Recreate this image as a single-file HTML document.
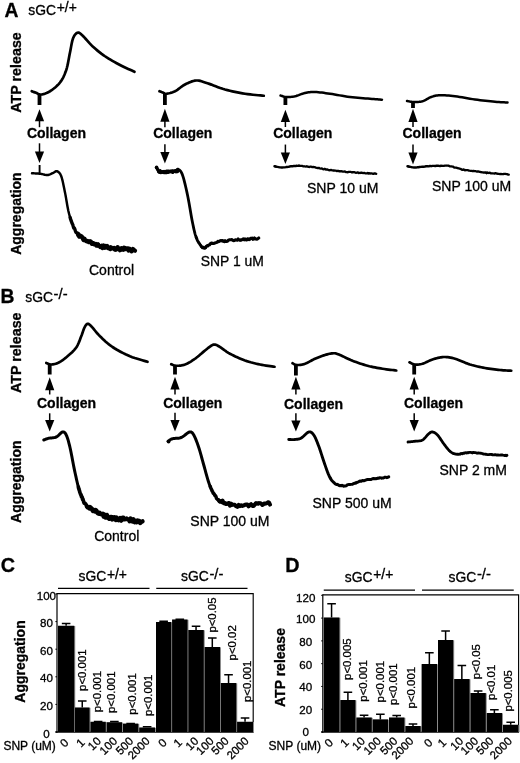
<!DOCTYPE html>
<html><head><meta charset="utf-8"><title>Figure</title>
<style>html,body{margin:0;padding:0;background:#fff;}svg{display:block;will-change:transform;}text{font-family:"Liberation Sans",sans-serif;fill:#000;stroke:#000;stroke-width:0.3px;}</style>
</head><body>
<svg width="520" height="763" viewBox="0 0 520 763">
<rect width="520" height="763" fill="#fff"/>
<text x="4.4" y="17.2" font-size="19.3" font-weight="bold" text-anchor="start">A</text>
<text x="28.3" y="14.9" font-size="13.9">sGC<tspan dx="0.6" dy="-2.5" font-size="13.9">+/+</tspan></text>
<text x="21.4" y="72.5" font-size="14.3" font-weight="bold" text-anchor="middle" transform="rotate(-90 21.4 72.5)">ATP release</text>
<text x="21.4" y="213.6" font-size="14" font-weight="bold" text-anchor="middle" transform="rotate(-90 21.4 213.6)">Aggregation</text>
<path d="M31.75 91.25 L32.07 91.37 L32.49 91.52 L32.99 91.71 L33.55 91.92 L34.15 92.14 L34.77 92.37 L35.39 92.59 L36 92.8 L36.58 93.04 L37.16 93.33 L37.74 93.64 L38.34 93.95 L38.98 94.22 L39.67 94.42 L40.42 94.52 L41.25 94.5 L42.17 94.37 L43.16 94.16 L44.22 93.89 L45.33 93.53 L46.47 93.09 L47.64 92.57 L48.82 91.95 L50 91.25 L51.22 90.45 L52.5 89.54 L53.82 88.54 L55.16 87.45 L56.47 86.3 L57.73 85.08 L58.92 83.81 L60 82.5 L60.98 81.15 L61.88 79.76 L62.73 78.31 L63.52 76.8 L64.25 75.22 L64.95 73.56 L65.61 71.83 L66.25 70 L66.84 68.03 L67.38 65.89 L67.87 63.65 L68.33 61.34 L68.76 59.03 L69.17 56.75 L69.58 54.55 L70 52.5 L70.4 50.53 L70.77 48.56 L71.11 46.63 L71.45 44.77 L71.8 43 L72.16 41.34 L72.56 39.83 L73 38.5 L73.49 37.32 L74.01 36.27 L74.56 35.35 L75.12 34.55 L75.71 33.88 L76.3 33.35 L76.9 32.96 L77.5 32.7 L78.07 32.58 L78.6 32.61 L79.12 32.77 L79.66 33.07 L80.24 33.49 L80.89 34.04 L81.63 34.71 L82.5 35.5 L83.49 36.47 L84.59 37.65 L85.77 38.98 L87.03 40.42 L88.35 41.92 L89.71 43.43 L91.1 44.89 L92.5 46.25 L93.93 47.54 L95.39 48.83 L96.89 50.11 L98.44 51.38 L100.02 52.62 L101.64 53.86 L103.3 55.06 L105 56.25 L106.76 57.42 L108.59 58.57 L110.46 59.71 L112.38 60.83 L114.3 61.92 L116.23 62.98 L118.13 64.01 L120 65 L121.94 65.99 L124 66.99 L126.11 67.97 L128.19 68.92 L130.15 69.8 L131.91 70.58 L133.38 71.24 L134.5 71.75" fill="none" stroke="#000" stroke-width="2.7" stroke-linecap="round" stroke-linejoin="round"/>
<rect x="37.6" y="94.5" width="3.8" height="10.5" fill="#000"/>
<path d="M39.5 109.3 L34.9 121.3 L44.1 121.3 Z" fill="#000"/>
<path d="M39.5 120.3 V127.2" stroke="#000" stroke-width="1.5" fill="none"/>
<text x="26.9" y="137.5" font-size="14" font-weight="bold" text-anchor="start">Collagen</text>
<path d="M39.5 143.3 V152.5" stroke="#000" stroke-width="1.5" fill="none"/>
<path d="M39.5 162.9 L34.9 151.5 L44.1 151.5 Z" fill="#000"/>
<path d="M39.6 165 V174" stroke="#000" stroke-width="1.9" fill="none"/>
<path d="M32 173.25 L32.48 173.28 L33.1 173.31 L33.83 173.34 L34.65 173.38 L35.53 173.42 L36.45 173.47 L37.38 173.53 L38.3 173.59 L39.18 173.67 L40 173.75 L40.78 173.86 L41.56 174 L42.35 174.17 L43.13 174.35 L43.91 174.53 L44.67 174.7 L45.41 174.84 L46.14 174.95 L46.83 175 L47.5 175 L48.14 174.93 L48.75 174.8 L49.34 174.63 L49.92 174.42 L50.47 174.19 L51 173.94 L51.52 173.68 L52.03 173.44 L52.52 173.2 L53 173 L53.46 172.78 L53.89 172.53 L54.3 172.24 L54.7 171.96 L55.08 171.69 L55.45 171.45 L55.83 171.27 L56.21 171.16 L56.6 171.15 L57 171.25 L57.42 171.43 L57.84 171.64 L58.27 171.9 L58.71 172.22 L59.14 172.62 L59.57 173.12 L60 173.71 L60.43 174.42 L60.84 175.26 L61.25 176.25 L61.65 177.4 L62.03 178.72 L62.41 180.18 L62.79 181.76 L63.16 183.44 L63.52 185.19 L63.89 187 L64.26 188.83 L64.63 190.67 L65 192.5 L65.37 194.37 L65.73 196.34 L66.09 198.38 L66.44 200.47 L66.8 202.58 L67.16 204.68 L67.53 206.75 L67.92 208.76 L68.32 210.69 L68.75 212.5 L69.19 214.23 L69.65 215.92 L70.12 217.56" fill="none" stroke="#000" stroke-width="2.45" stroke-linecap="round" stroke-linejoin="round"/>
<path d="M70.12 217.56 L70.36 218.32 L70.6 219.2 L70.85 219.76 L71.09 220.72 L71.35 221.36 L71.6 221.84 L71.86 222.91 L72.12 223.13 L72.38 224.22 L72.65 224.41 L72.92 225.03 L73.19 226.16 L73.75 228.06 L74.31 227.94 L74.86 229.14 L75.41 230.93 L75.98 232.57 L76.56 232.6 L77.17 232.97 L77.81 235.26 L78.49 233.5 L79.22 236.54" fill="none" stroke="#000" stroke-width="3.38" stroke-linecap="round" stroke-linejoin="round"/>
<path d="M79.22 236.54 L80 235.62 L80.83 235.92 L81.68 236.54 L82.57 237.79 L83.49 239.96 L84.45 238.68 L85.46 240.49 L86.51 241.25 L87.62 241.02 L88.78 242.1 L90 241.19 L90.65 241.45 L91.3 242.15 L91.99 243.84 L92.68 243.34 L93.41 243.25 L94.13 244.32 L94.89 244.17 L95.64 243.96 L96.41 245.68 L97.19 245.63 L97.97 244.49" fill="none" stroke="#000" stroke-width="4.3" stroke-linecap="round" stroke-linejoin="round"/>
<path d="M97.97 244.49 L98.76 245.71 L99.55 245.77 L100.34 247.03 L101.13 246.79 L101.92 245.67 L102.7 247.93 L103.48 245.52 L104.24 246.59 L105 247.77 L105.75 246.1 L106.5 247.25 L107.25 246.02 L108 248.03 L108.75 248.42 L109.5 247.95 L110.25 248.94 L111 247.34 L111.75 248.56 L112.5 248.33 L113.25 248.35 L114 248.05 L114.75 249.27" fill="none" stroke="#000" stroke-width="4.3" stroke-linecap="round" stroke-linejoin="round"/>
<path d="M114.75 249.27 L115.5 249.65 L116.25 248.3 L117 248.94 L117.75 247.2 L118.5 249.19 L119.25 249.11 L120 250.23 L120.78 249.81 L121.57 248.29 L122.4 248.69 L123.24 249.63 L124.11 247.8 L124.97 249.22 L125.85 248.44 L126.72 248.39 L127.58 248.31 L128.44 250.54 L129.26 248.72 L130.08 249.17 L130.84 249.69 L131.6 251.22 L132.96 249 L134.11 250.24 L135 250.65" fill="none" stroke="#000" stroke-width="4.3" stroke-linecap="round" stroke-linejoin="round"/>
<text x="89" y="274.6" font-size="14" text-anchor="start">Control</text>
<path d="M159.5 91.25 L159.77 91.36 L160.13 91.5 L160.57 91.67 L161.05 91.85 L161.55 92.05 L162.06 92.24 L162.55 92.43 L163 92.6 L163.38 92.78 L163.7 92.99 L164 93.21 L164.3 93.42 L164.64 93.59 L165.06 93.72 L165.58 93.78 L166.25 93.75 L167.07 93.64 L168.02 93.48 L169.07 93.27 L170.2 92.99 L171.39 92.66 L172.6 92.26 L173.81 91.79 L175 91.25 L176.18 90.59 L177.38 89.8 L178.6 88.91 L179.84 87.97 L181.1 87.02 L182.38 86.09 L183.68 85.24 L185 84.5 L186.35 83.82 L187.72 83.15 L189.13 82.5 L190.55 81.91 L191.98 81.38 L193.41 80.96 L194.84 80.66 L196.25 80.5 L197.61 80.5 L198.92 80.63 L200.19 80.88 L201.48 81.23 L202.82 81.67 L204.25 82.16 L205.79 82.69 L207.5 83.25 L209.37 83.88 L211.38 84.61 L213.49 85.43 L215.7 86.28 L217.98 87.15 L220.3 88 L222.65 88.79 L225 89.5 L227.39 90.14 L229.85 90.76 L232.37 91.34 L234.92 91.89 L237.48 92.41 L240.03 92.89 L242.54 93.34 L245 93.75 L247.53 94.12 L250.21 94.46 L252.95 94.75 L255.62 95.02 L258.15 95.25 L260.41 95.44 L262.31 95.61 L263.75 95.75" fill="none" stroke="#000" stroke-width="2.7" stroke-linecap="round" stroke-linejoin="round"/>
<rect x="163" y="93.75" width="3.8" height="11.25" fill="#000"/>
<path d="M164.9 108.8 L160.3 121.8 L169.5 121.8 Z" fill="#000"/>
<path d="M164.9 120.8 V127.2" stroke="#000" stroke-width="1.5" fill="none"/>
<text x="153.2" y="138" font-size="14" font-weight="bold" text-anchor="start">Collagen</text>
<path d="M164.9 144.3 V153" stroke="#000" stroke-width="1.5" fill="none"/>
<path d="M164.9 163.4 L160.3 152 L169.5 152 Z" fill="#000"/>
<path d="M156.25 167.61 L156.35 167.69 L156.48 168.01 L156.64 167.36 L156.81 167.9 L157 168.15 L157.2 169.34 L157.4 169.81 L157.61 168.86 L157.81 169.21 L158 169.57 L158.15 169.82 L158.26 170.47 L158.33 170.88 L158.4 170.59 L158.48 170.39 L158.61 171.26 L158.8 171.37 L159.08 171.85 L159.47 172.61 L160 172.3 L160.69 172.11 L161.55 172.33 L162.54 172.46 L163.62 171.48 L164.75 172.83 L165.9 172.62 L167.04 172.74 L168.13 172.57 L169.13 171.88 L170 171.84 L170.78 171.31 L171.51 172.09 L172.2 171.09 L172.86 171 L173.47 171.13 L174.04 170.94 L174.58 171.11 L175.09 170.53 L175.56 170.33 L176 170.44 L176.39 170.2 L176.7 170.4 L176.96 169.61 L177.18 170.7 L177.38 170.03 L177.56 169.06 L177.75 169.05 L177.96 169.12 L178.2 169.37 L178.5 169.5 L178.83 169.7 L179.19 169.92 L179.56 170.18 L179.94 170.5 L180.34 170.91 L180.76 171.42 L181.18 172.06 L181.61 172.86 L182.05 173.83 L182.5 175 L182.96 176.38 L183.44 177.95 L183.93 179.7 L184.43 181.6 L184.94 183.62 L185.45 185.76 L185.97 187.99 L186.48 190.29 L187 192.63 L187.5 195 L188.01 197.5 L188.52 200.22 L189.04 203.09 L189.56 206.06 L190.08 209.06 L190.59 212.04 L191.09 214.93 L191.58 217.68 L192.05 220.22 L192.5 222.5 L192.92 224.53 L193.31 226.4 L193.68 228.12 L194.03 229.7 L194.38 231.17 L194.72 232.55 L195.07 233.85 L195.44 235.1 L195.83 236.31 L196.25 237.5" fill="none" stroke="#000" stroke-width="2.8" stroke-linecap="round" stroke-linejoin="round"/>
<path d="M196.25 237.5 L196.71 238.63 L197.19 239.82 L197.7 240.93 L198.22 241.8 L198.75 242.73 L199.28 243.4 L199.8 244.16 L200.31 244.99 L200.8 245.55 L201.25 246.5 L201.66 246.42 L202.02 246.64 L202.35 247.8 L202.66 247.6 L202.97 247.3 L203.29 247.83 L203.64 247.18 L204.03 247.78 L204.48 248.33 L205 248.05 L205.56 247.58" fill="none" stroke="#000" stroke-width="2.95" stroke-linecap="round" stroke-linejoin="round"/>
<path d="M205.56 247.58 L206.14 246.55 L206.74 246.3 L207.37 245.49 L208.05 245.92 L208.78 244.98 L209.58 244.83 L210.46 243.59 L211.43 242.95 L212.5 243.5 L213.69 243.44 L214.98 242.92 L215.68 242.7 L216.37 242.57 L217.11 242.31 L217.84 241.36 L218.61 241.7 L219.38 241.32 L220.17 240.68 L220.96 240.56 L221.77 240.85 L222.58 240.71" fill="none" stroke="#000" stroke-width="3.1" stroke-linecap="round" stroke-linejoin="round"/>
<path d="M222.58 240.71 L223.4 241.3 L224.22 241.62 L225.04 240.7 L225.87 241.39 L226.68 241.38 L227.5 241.23 L228.33 240.2 L229.17 239.88 L230.03 239.81 L230.9 239.68 L231.79 239.62 L232.68 240.22 L233.59 240.6 L234.5 240.44 L235.41 239.81 L236.33 240.03 L237.24 240.21 L238.15 239.01 L239.05 239.88 L239.95 240.22 L240.82 239.97" fill="none" stroke="#000" stroke-width="3.1" stroke-linecap="round" stroke-linejoin="round"/>
<path d="M240.82 239.97 L241.7 239.86 L242.55 239.38 L243.39 238.84 L244.2 239.77 L245 238.98 L245.79 239.67 L246.59 239.89 L247.4 238.91 L248.21 238.86 L249.02 239.67 L249.83 239.26 L250.63 238.31 L251.43 238.19 L252.2 238.17 L252.97 239.32 L253.69 239.11 L254.42 238 L255.75 238.99 L256.94 239.15 L257.95 238.56 L258.75 238.01" fill="none" stroke="#000" stroke-width="3.1" stroke-linecap="round" stroke-linejoin="round"/>
<circle cx="156.6" cy="167.4" r="1.8" fill="#000"/>
<path d="M158.5 171.69 L159.3 170.94 L160.1 170.73 L160.9 172.45 L161.7 171.87 L162.5 171.65 L163.3 172.38 L164.1 171.48 L164.9 172.27 L165.7 172.19 L166.5 171.08 L167.3 171.15 L168.1 171.23 L168.9 171.13 L169.7 171.76 L170.5 171.17 L171.3 171.45 L172.1 170.94 L172.9 172.34 L173.7 171.19 L174.5 171.22 L175.3 171.3 L176.1 171.73 L176.9 170.71 L177.7 171.45" fill="none" stroke="#000" stroke-width="3.3" stroke-linecap="round" stroke-linejoin="round"/>
<text x="200.8" y="265.75" font-size="13.9" text-anchor="start">SNP 1 uM</text>
<path d="M280.5 95.5 L280.92 95.63 L281.46 95.82 L282.1 96.05 L282.83 96.3 L283.62 96.54 L284.47 96.75 L285.35 96.91 L286.25 97 L287.19 97.03 L288.2 97.03 L289.26 96.99 L290.36 96.92 L291.5 96.81 L292.65 96.67 L293.83 96.48 L295 96.25 L296.19 95.95 L297.41 95.56 L298.66 95.12 L299.92 94.64 L301.2 94.16 L302.47 93.71 L303.74 93.32 L305 93 L306.22 92.75 L307.38 92.53 L308.53 92.34 L309.69 92.19 L310.88 92.07 L312.15 92 L313.51 91.98 L315 92 L316.6 92.08 L318.28 92.21 L320.04 92.39 L321.88 92.61 L323.79 92.86 L325.78 93.14 L327.85 93.44 L330 93.75 L332.26 94.09 L334.65 94.49 L337.13 94.92 L339.69 95.38 L342.28 95.83 L344.88 96.26 L347.47 96.66 L350 97 L352.55 97.3 L355.19 97.56 L357.85 97.8 L360.5 98.02 L363.09 98.21 L365.56 98.4 L367.88 98.58 L370 98.75 L371.96 98.92 L373.84 99.08 L375.61 99.22 L377.25 99.36 L378.73 99.48 L380.03 99.59 L381.13 99.68 L382 99.75" fill="none" stroke="#000" stroke-width="2.5" stroke-linecap="round" stroke-linejoin="round"/>
<rect x="283.5" y="97" width="3.8" height="8" fill="#000"/>
<path d="M285.4 109.8 L280.8 122.05 L290 122.05 Z" fill="#000"/>
<path d="M285.4 121.05 V127" stroke="#000" stroke-width="1.5" fill="none"/>
<text x="273.2" y="138" font-size="14" font-weight="bold" text-anchor="start">Collagen</text>
<path d="M285.4 144.55 V153.5" stroke="#000" stroke-width="1.5" fill="none"/>
<path d="M285.4 163.9 L280.8 152.5 L290 152.5 Z" fill="#000"/>
<path d="M274.5 166.25 L274.94 166.34 L275.48 166.47" fill="none" stroke="#000" stroke-width="2.45" stroke-linecap="round" stroke-linejoin="round"/>
<path d="M275.48 166.47 L276.09 166.63 L276.79 166.81 L277.56 166.95 L278.41 167.15 L279.33 167.27 L280.32 167.35 L281.38 167.54 L282.5 167.44 L283.71 167.42 L285.01 167.34 L285.71 167.2 L286.41 167.03 L287.14 166.97 L287.88 166.87 L288.64 166.83 L289.41 166.44 L290.2 166.49 L290.98 166.23 L291.79 166.12 L292.6 166.25 L293.41 166.02 L294.23 165.96 L295.05 166.01 L295.87 166.04 L296.68 165.74 L297.5 165.82 L298.32 165.77 L299.14 165.78" fill="none" stroke="#000" stroke-width="2.38" stroke-linecap="round" stroke-linejoin="round"/>
<path d="M299.14 165.78 L299.97 165.95 L300.8 165.82 L301.64 165.93 L302.49 165.96 L303.34 166.36 L304.2 166.27 L305.07 166.48 L305.94 166.62 L306.82 166.25 L307.7 166.57 L308.59 166.95 L309.49 166.99 L310.39 166.62 L311.3 166.73 L312.22 167.08 L313.14 166.95 L314.07 167.19 L315 167.2 L315.95 167.75 L316.9 167.97 L317.87 168.2 L318.84 167.84 L319.83 168.4 L320.82 168.52 L321.82 168.34 L322.82 169.03 L323.83 169.27 L324.84 168.93" fill="none" stroke="#000" stroke-width="2.3" stroke-linecap="round" stroke-linejoin="round"/>
<path d="M324.84 168.93 L325.86 169.62 L326.88 169.41 L327.9 169.65 L328.92 170.18 L329.94 170.24 L330.96 169.94 L331.97 170.28 L332.99 170.49 L333.99 170.5 L335 170.54 L336 170.74 L336.99 171.14 L337.99 170.76 L338.98 171.24 L339.97 171.26 L340.96 171.06 L341.95 171.37 L342.94 171.67 L343.93 171.67 L344.92 171.45 L345.92 172.17 L346.91 172.11 L347.91 172.31 L348.91 171.78 L349.91 171.97 L350.92 171.88 L351.93 172.47 L352.95 172.19" fill="none" stroke="#000" stroke-width="2.3" stroke-linecap="round" stroke-linejoin="round"/>
<path d="M352.95 172.19 L353.97 172.17 L355 172.45 L355.72 172.84 L356.45 172.82 L357.17 172.48 L357.95 172.46 L358.73 173.05 L359.51 172.85 L360.32 172.99 L361.14 172.61 L361.95 172.64 L362.78 173.13 L363.6 173 L364.43 172.8 L365.24 173.45 L366.06 173.28 L366.88 173.45 L367.66 172.99 L368.44 173.57 L369.22 173.06 L369.95 173.66 L370.67 173.41 L371.4 173.37 L372.37 173.57 L373.34 173.89 L374.16 173.47 L374.98 173.42 L376.25 173.77" fill="none" stroke="#000" stroke-width="2.3" stroke-linecap="round" stroke-linejoin="round"/>
<text x="307" y="193" font-size="14" text-anchor="start">SNP 10 uM</text>
<path d="M407 101 L407.51 101.09 L408.17 101.22 L408.95 101.38 L409.83 101.55 L410.78 101.71 L411.76 101.85 L412.76 101.95 L413.75 102 L414.75 102.01 L415.8 102.02 L416.88 102 L418 101.95 L419.13 101.86 L420.27 101.72 L421.39 101.52 L422.5 101.25 L423.59 100.87 L424.69 100.38 L425.78 99.8 L426.88 99.19 L427.97 98.56 L429.06 97.97 L430.16 97.44 L431.25 97 L432.3 96.64 L433.29 96.32 L434.26 96.04 L435.23 95.8 L436.26 95.59 L437.37 95.44 L438.61 95.32 L440 95.25 L441.54 95.23 L443.19 95.25 L444.95 95.32 L446.8 95.44 L448.73 95.59 L450.75 95.78 L452.84 96 L455 96.25 L457.26 96.56 L459.65 96.93 L462.13 97.35 L464.69 97.8 L467.28 98.26 L469.88 98.71 L472.47 99.13 L475 99.5 L477.55 99.84 L480.18 100.17 L482.83 100.48 L485.47 100.78 L488.05 101.06 L490.53 101.32 L492.86 101.55 L495 101.75 L497.01 101.92 L498.95 102.06 L500.79 102.17 L502.5 102.27 L504.06 102.34 L505.43 102.4 L506.59 102.45 L507.5 102.5" fill="none" stroke="#000" stroke-width="2.5" stroke-linecap="round" stroke-linejoin="round"/>
<rect x="411.1" y="102" width="3.8" height="6" fill="#000"/>
<path d="M413 108.8 L408.4 122.05 L417.6 122.05 Z" fill="#000"/>
<path d="M413 121.05 V127" stroke="#000" stroke-width="1.5" fill="none"/>
<text x="402.5" y="138" font-size="14" font-weight="bold" text-anchor="start">Collagen</text>
<path d="M413 144.55 V153.5" stroke="#000" stroke-width="1.5" fill="none"/>
<path d="M413 164.4 L408.4 152.5 L417.6 152.5 Z" fill="#000"/>
<path d="M407.5 166.25 L407.92 166.34 L408.44 166.46" fill="none" stroke="#000" stroke-width="2.45" stroke-linecap="round" stroke-linejoin="round"/>
<path d="M408.44 166.46 L409.04 166.6 L409.72 166.76 L410.47 166.92 L411.28 167.09 L412.15 167.25 L413.06 167.36 L414.01 167.52 L415 167.46 L416.05 167.47 L417.18 167.31 L418.38 167.24 L419.64 166.99 L420.94 166.9 L422.26 166.64 L423.59 166.74 L424.92 166.51 L426.23 166.22 L427.5 166.24 L428.76 166.38 L430.04 165.88 L431.33 166.19 L432.62 165.91 L433.91 165.89 L435.18 166.05 L436.43 165.73 L437.66 165.78 L438.85 165.89" fill="none" stroke="#000" stroke-width="2.38" stroke-linecap="round" stroke-linejoin="round"/>
<path d="M438.85 165.89 L440 166.09 L441.08 165.63 L442.08 165.97 L443.03 165.87 L443.94 165.82 L444.84 165.67 L445.76 165.66 L446.71 165.52 L447.72 165.67 L448.81 165.76 L450 166.42 L451.27 166.33 L452.6 166.58 L453.29 166.7 L453.98 167.41 L454.69 167.64 L455.4 167.7 L456.14 167.64 L456.88 167.82 L457.64 168.07 L458.4 168.41 L459.19 168.41 L459.98 168.83 L460.79 168.91 L461.6 169.6 L462.44 169.8 L463.27 169.69" fill="none" stroke="#000" stroke-width="2.3" stroke-linecap="round" stroke-linejoin="round"/>
<path d="M463.27 169.69 L464.14 169.65 L465 170.33 L465.89 170.02 L466.78 170.2 L467.7 170.1 L468.62 170.51 L469.57 170.71 L470.51 170.86 L471.49 170.78 L472.46 171.12 L473.46 170.89 L474.45 171.19 L475.47 171.19 L476.49 171.53 L477.53 171.39 L478.57 171.49 L479.27 171.76 L479.98 171.79 L480.68 172.11 L481.4 172.15 L482.11 172.38 L482.83 172.39 L483.55 172.5 L484.28 172.69 L485 172.42 L485.78 172.45 L486.55 172.99" fill="none" stroke="#000" stroke-width="2.3" stroke-linecap="round" stroke-linejoin="round"/>
<path d="M486.55 172.99 L487.33 172.48 L488.18 172.96 L489.04 172.99 L489.89 172.64 L490.79 173.28 L491.69 173.4 L492.6 173.29 L493.52 173.44 L494.45 173.57 L495.37 173.18 L496.29 173.52 L497.21 173.58 L498.12 173.89 L499.01 173.94 L499.89 174.03 L500.78 173.93 L501.6 174.21 L502.43 174.13 L503.25 174.2 L503.99 173.93 L504.72 173.85 L505.46 173.98 L506.39 174.21 L507.32 174.11 L508.03 174.68 L508.75 174.54" fill="none" stroke="#000" stroke-width="2.3" stroke-linecap="round" stroke-linejoin="round"/>
<text x="432" y="191.25" font-size="14" text-anchor="start">SNP 100 uM</text>
<text x="0.6" y="302.6" font-size="19.3" font-weight="bold" text-anchor="start">B</text>
<text x="25.2" y="301.6" font-size="13.9">sGC<tspan dx="0.6" dy="-2.5" font-size="14.8">-/-</tspan></text>
<text x="21.4" y="352.75" font-size="14.3" font-weight="bold" text-anchor="middle" transform="rotate(-90 21.4 352.75)">ATP release</text>
<text x="21.4" y="481.75" font-size="14" font-weight="bold" text-anchor="middle" transform="rotate(-90 21.4 481.75)">Aggregation</text>
<path d="M46.25 363 L46.62 363.14 L47.09 363.35 L47.65 363.61 L48.28 363.88 L48.97 364.13 L49.71 364.34 L50.47 364.47 L51.25 364.5 L52.06 364.45 L52.92 364.35 L53.82 364.19 L54.77 363.98 L55.74 363.72 L56.73 363.38 L57.74 362.98 L58.75 362.5 L59.78 361.94 L60.85 361.29 L61.94 360.58 L63.05 359.8 L64.16 358.96 L65.28 358.09 L66.4 357.18 L67.5 356.25 L68.62 355.29 L69.78 354.3 L70.95 353.26 L72.11 352.19 L73.24 351.07 L74.33 349.92 L75.34 348.73 L76.25 347.5 L77.07 346.2 L77.8 344.8 L78.48 343.35 L79.09 341.88 L79.67 340.4 L80.21 338.95 L80.73 337.55 L81.25 336.25 L81.74 335 L82.19 333.77 L82.61 332.56 L83 331.4 L83.38 330.29 L83.75 329.27 L84.12 328.33 L84.5 327.5 L84.88 326.76 L85.25 326.1 L85.61 325.51 L85.97 325.01 L86.33 324.59 L86.7 324.26 L87.09 324.03 L87.5 323.9 L87.9 323.86 L88.27 323.89 L88.63 324.01 L89.02 324.22 L89.44 324.55 L89.94 324.99 L90.54 325.55 L91.25 326.25 L92.08 327.13 L93 328.19 L94 329.41 L95.08 330.73 L96.22 332.11 L97.43 333.52 L98.69 334.91 L100 336.25 L101.35 337.57 L102.74 338.92 L104.19 340.29 L105.7 341.67 L107.28 343.05 L108.94 344.4 L110.67 345.72 L112.5 347 L114.45 348.25 L116.52 349.51 L118.7 350.74 L120.94 351.95 L123.22 353.12 L125.51 354.24 L127.78 355.28 L130 356.25 L132.31 357.15 L134.79 358.02 L137.33 358.83 L139.84 359.58 L142.22 360.26 L144.36 360.85 L146.15 361.35 L147.5 361.75" fill="none" stroke="#000" stroke-width="2.7" stroke-linecap="round" stroke-linejoin="round"/>
<rect x="47.8" y="364.5" width="3.8" height="10" fill="#000"/>
<path d="M49.7 377.3 L45.1 390.3 L54.3 390.3 Z" fill="#000"/>
<path d="M49.7 389.3 V394.5" stroke="#000" stroke-width="1.5" fill="none"/>
<text x="37" y="407.5" font-size="14" font-weight="bold" text-anchor="start">Collagen</text>
<path d="M49.7 413.3 V421" stroke="#000" stroke-width="1.5" fill="none"/>
<path d="M49.7 431.4 L45.1 420 L54.3 420 Z" fill="#000"/>
<path d="M43.75 440 L44.04 439.89 L44.39 439.75 L44.8 439.59 L45.27 439.4 L45.78 439.2 L46.33 439 L46.91 438.79 L47.51 438.6 L48.13 438.41 L48.75 438.25 L49.4 438.12 L50.11 438.03 L50.86 437.96 L51.63 437.89 L52.42 437.83 L53.22 437.75 L54.01 437.63 L54.79 437.48 L55.54 437.27 L56.25 437 L56.94 436.62 L57.62 436.11 L58.3 435.52 L58.96 434.89 L59.61 434.23 L60.24 433.6 L60.85 433.03 L61.43 432.55 L61.98 432.19 L62.5 432 L62.98 431.93 L63.41 431.94 L63.81 432.01 L64.18 432.17 L64.53 432.41 L64.87 432.73 L65.2 433.15 L65.54 433.66 L65.89 434.28 L66.25 435 L66.62 435.81 L66.98 436.69 L67.34 437.66 L67.69 438.72 L68.05 439.88 L68.41 441.14 L68.78 442.53 L69.17 444.05 L69.57 445.7 L70 447.5 L70.45 449.52 L70.92 451.78 L71.41 454.24 L71.91 456.84 L72.42 459.53 L72.94 462.26 L73.46 464.97 L73.98 467.62 L74.49 470.15 L75 472.5 L75.49 474.74 L75.98 476.94 L76.46 479.1 L76.94 481.22 L77.42 483.28 L77.91 485.28 L78.41 487.21" fill="none" stroke="#000" stroke-width="3" stroke-linecap="round" stroke-linejoin="round"/>
<path d="M78.41 487.21 L78.66 488.15 L78.92 489.11 L79.18 489.94 L79.45 490.54 L79.72 491.87 L80 492.71 L80.28 493.29 L80.56 494.12 L80.85 495.03 L81.13 494.96 L81.42 496.66 L81.7 496.58 L82 496.88 L82.29 497.87 L82.59 499.46 L82.89 498.94 L83.51 501.39 L84.15 503.16 L84.82 503 L85.52 503.7 L86.25 504.94 L87 506.45" fill="none" stroke="#000" stroke-width="3.7" stroke-linecap="round" stroke-linejoin="round"/>
<path d="M87 506.45 L87.74 507.5 L88.49 507.71 L89.27 508.41 L90.08 507.16 L90.93 507.92 L91.84 508.78 L92.81 510.88 L93.86 510.03 L95 511.47 L95.62 510.01 L96.25 510.49 L96.92 511.49 L97.6 513.12 L98.32 513.53 L99.04 513.82 L99.8 512.94 L100.55 514.01 L101.33 514.18 L102.11 514.53 L102.9 513.75 L103.7 516.57 L104.5 514.66" fill="none" stroke="#000" stroke-width="4.4" stroke-linecap="round" stroke-linejoin="round"/>
<path d="M104.5 514.66 L105.3 517.47 L106.1 517.63 L106.9 514.98 L107.69 516.65 L108.47 518.07 L109.24 518.77 L110 517.34 L110.74 516.95 L111.49 516.94 L112.22 519.45 L112.96 517.24 L113.69 518.55 L114.42 517.26 L115.15 518.58 L115.88 520.04 L116.61 517.5 L117.34 519.77 L118.08 518.85 L118.82 520.12 L119.57 519.6 L120.32 518.16 L121.08 520.36" fill="none" stroke="#000" stroke-width="4.4" stroke-linecap="round" stroke-linejoin="round"/>
<path d="M121.08 520.36 L121.84 519.11 L122.62 517.71 L123.4 517.72 L124.2 519.38 L125 519.34 L125.86 518.98 L126.73 518.58 L127.67 519.35 L128.62 519.38 L129.62 521.19 L130.62 518.63 L131.64 521.16 L132.66 521.58 L133.67 519.4 L134.69 522.11 L135.66 521.56 L136.64 522.29 L137.55 520.44 L138.46 520.82 L139.27 520.99 L140.08 523.04 L141.45 521.9 L142.5 521.3" fill="none" stroke="#000" stroke-width="4.4" stroke-linecap="round" stroke-linejoin="round"/>
<text x="94.2" y="540.6" font-size="14" text-anchor="start">Control</text>
<path d="M171.25 364.25 L171.61 364.38 L172.06 364.58 L172.59 364.82 L173.2 365.08 L173.88 365.32 L174.62 365.53 L175.41 365.68 L176.25 365.75 L177.16 365.76 L178.14 365.74 L179.2 365.68 L180.31 365.58 L181.46 365.42 L182.64 365.19 L183.82 364.89 L185 364.5 L186.19 364.01 L187.41 363.44 L188.66 362.78 L189.92 362.06 L191.2 361.29 L192.47 360.47 L193.74 359.62 L195 358.75 L196.28 357.81 L197.59 356.78 L198.91 355.69 L200.23 354.56 L201.52 353.45 L202.76 352.38 L203.93 351.38 L205 350.5 L205.98 349.71 L206.9 348.98 L207.75 348.3 L208.55 347.68 L209.29 347.11 L209.99 346.6 L210.64 346.15 L211.25 345.75 L211.79 345.41 L212.25 345.14 L212.64 344.93 L213 344.77 L213.34 344.67 L213.69 344.61 L214.07 344.59 L214.5 344.6 L214.94 344.63 L215.33 344.68 L215.71 344.76 L216.12 344.88 L216.6 345.08 L217.17 345.36 L217.88 345.74 L218.75 346.25 L219.8 346.91 L220.98 347.73 L222.29 348.67 L223.7 349.68 L225.2 350.74 L226.76 351.79 L228.37 352.81 L230 353.75 L231.7 354.65 L233.49 355.55 L235.35 356.46 L237.27 357.34 L239.21 358.2 L241.16 359.02 L243.1 359.79 L245 360.5 L246.88 361.14 L248.76 361.73 L250.65 362.28 L252.53 362.78 L254.41 363.25 L256.29 363.69 L258.15 364.1 L260 364.5 L261.94 364.88 L264 365.24 L266.11 365.57 L268.19 365.88 L270.15 366.15 L271.91 366.39 L273.38 366.59 L274.5 366.75" fill="none" stroke="#000" stroke-width="2.7" stroke-linecap="round" stroke-linejoin="round"/>
<rect x="173.1" y="365.75" width="3.8" height="8.75" fill="#000"/>
<path d="M175 376.8 L170.4 389.55 L179.6 389.55 Z" fill="#000"/>
<path d="M175 388.55 V394.5" stroke="#000" stroke-width="1.5" fill="none"/>
<text x="163.2" y="407.5" font-size="14" font-weight="bold" text-anchor="start">Collagen</text>
<path d="M175 412.8 V421" stroke="#000" stroke-width="1.5" fill="none"/>
<path d="M175 431.4 L170.4 420 L179.6 420 Z" fill="#000"/>
<path d="M168 441.25 L168.25 441.1 L168.54 440.89 L168.89 440.64 L169.27 440.37 L169.7 440.08 L170.18 439.78 L170.7 439.49 L171.26 439.21 L171.86 438.96 L172.5 438.75 L173.21 438.59 L173.99 438.49 L174.83 438.42 L175.72 438.36 L176.64 438.31 L177.58 438.25 L178.53 438.15 L179.46 438 L180.38 437.79 L181.25 437.5 L182.11 437.08 L183 436.54 L183.89 435.89 L184.78 435.2 L185.66 434.48 L186.51 433.79 L187.33 433.16 L188.11 432.62 L188.84 432.22 L189.5 432 L190.08 431.91 L190.59 431.9 L191.05 431.98 L191.45 432.13 L191.83 432.38 L192.19 432.71 L192.55 433.13 L192.92 433.66 L193.31 434.28 L193.75 435 L194.22 435.84 L194.7 436.81 L195.19 437.89 L195.7 439.08 L196.2 440.34 L196.71 441.68 L197.23 443.08 L197.74 444.53 L198.25 446 L198.75 447.5 L199.25 449.05 L199.75 450.68 L200.25 452.38 L200.75 454.14 L201.25 455.94 L201.75 457.76 L202.25 459.59 L202.75 461.42 L203.25 463.23 L203.75 465 L204.25 466.78 L204.75 468.6 L205.25 470.45 L205.75 472.3 L206.25 474.14 L206.75 475.95 L207.25 477.71 L207.75 479.4 L208.25 481 L208.75 482.5 L209.24 483.9 L209.73 485.22 L210.21 486.48" fill="none" stroke="#000" stroke-width="3" stroke-linecap="round" stroke-linejoin="round"/>
<path d="M210.21 486.48 L210.69 487.63 L211.17 488.64 L211.66 489.67 L212.16 491.13 L212.67 491.71 L213.2 493.28 L213.75 493.45 L214.31 494.3 L214.86 495.45 L215.41 495.67 L215.98 496.67 L216.56 498.51 L217.17 499.06 L217.81 499.56 L218.49 499.73 L219.22 501.08" fill="none" stroke="#000" stroke-width="3.5" stroke-linecap="round" stroke-linejoin="round"/>
<path d="M219.22 501.08 L220 501.73 L220.84 501.16 L221.72 502.13 L222.65 500.73 L223.61 503.08 L224.61 502.71 L225.64 503.94 L226.7 503.99 L227.78 503.32 L228.88 502.96 L230 505.69 L231.15 503.7 L232.34 504.89 L233.57 504.72 L234.82 504.75 L236.09 506.12" fill="none" stroke="#000" stroke-width="4" stroke-linecap="round" stroke-linejoin="round"/>
<path d="M236.09 506.12 L237.38 506.9 L238.67 504.97 L239.96 506.14 L241.24 505.18 L242.5 505.91 L243.74 505.43 L244.96 504.73 L246.17 504.61 L247.38 504.61 L248.59 506.42 L249.82 505.11 L251.07 504.17 L252.34 505.93 L253.65 506.03 L255 504.36 L255.73 503.43" fill="none" stroke="#000" stroke-width="4" stroke-linecap="round" stroke-linejoin="round"/>
<path d="M255.73 503.43 L256.47 503.51 L257.27 503.15 L258.08 503.79 L258.93 503.01 L259.79 503.36 L260.66 503.34 L261.54 504.13 L262.41 504.95 L263.28 504.5 L264.12 503.48 L264.96 503.42 L265.74 503.66 L266.52 503.19 L267.22 503.02 L267.92 502.19 L269.1 502.7 L270 504.56" fill="none" stroke="#000" stroke-width="4" stroke-linecap="round" stroke-linejoin="round"/>
<circle cx="168.6" cy="441.6" r="1.9" fill="#000"/>
<text x="190.3" y="525.5" font-size="14" text-anchor="start">SNP 100 uM</text>
<path d="M292.5 363.25 L292.82 363.41 L293.23 363.63 L293.7 363.91 L294.25 364.2 L294.86 364.49 L295.52 364.73 L296.24 364.91 L297 365 L297.82 365.01 L298.71 364.99 L299.66 364.92 L300.66 364.8 L301.7 364.63 L302.78 364.4 L303.88 364.11 L305 363.75 L306.15 363.3 L307.36 362.73 L308.6 362.09 L309.88 361.41 L311.16 360.7 L312.45 360 L313.74 359.34 L315 358.75 L316.26 358.21 L317.53 357.68 L318.8 357.16 L320.08 356.67 L321.34 356.2 L322.59 355.77 L323.81 355.36 L325 355 L326.17 354.66 L327.33 354.34 L328.48 354.04 L329.61 353.78 L330.71 353.56 L331.77 353.39 L332.78 353.29 L333.75 353.25 L334.61 353.27 L335.34 353.35 L336 353.47 L336.64 353.66 L337.31 353.9 L338.06 354.2 L338.94 354.57 L340 355 L341.25 355.53 L342.63 356.17 L344.12 356.9 L345.7 357.67 L347.35 358.47 L349.05 359.27 L350.78 360.04 L352.5 360.75 L354.26 361.42 L356.07 362.1 L357.94 362.77 L359.84 363.42 L361.77 364.05 L363.69 364.66 L365.61 365.23 L367.5 365.75 L369.38 366.23 L371.28 366.67 L373.18 367.08 L375.08 367.45 L376.97 367.8 L378.84 368.13 L380.68 368.45 L382.5 368.75 L384.37 369.04 L386.35 369.32 L388.35 369.57 L390.31 369.81 L392.16 370.03 L393.81 370.21 L395.2 370.37 L396.25 370.5" fill="none" stroke="#000" stroke-width="2.7" stroke-linecap="round" stroke-linejoin="round"/>
<rect x="294" y="365" width="3.8" height="10.5" fill="#000"/>
<path d="M295.9 376.8 L291.3 389.55 L300.5 389.55 Z" fill="#000"/>
<path d="M295.9 388.55 V394.5" stroke="#000" stroke-width="1.5" fill="none"/>
<text x="284" y="408.5" font-size="14" font-weight="bold" text-anchor="start">Collagen</text>
<path d="M295.9 413.3 V421.5" stroke="#000" stroke-width="1.5" fill="none"/>
<path d="M295.9 431.4 L291.3 420.5 L300.5 420.5 Z" fill="#000"/>
<path d="M288.75 439.5 L289.12 439.51 L289.6 439.52 L290.17 439.55 L290.8 439.57 L291.48 439.59 L292.2 439.61 L292.93 439.61 L293.65 439.6 L294.35 439.56 L295 439.5 L295.62 439.43 L296.23 439.37 L296.84 439.3 L297.44 439.22 L298.05 439.12 L298.66 439 L299.28 438.83 L299.92 438.61 L300.57 438.34 L301.25 438 L301.96 437.54 L302.71 436.94 L303.49 436.25 L304.28 435.49 L305.08 434.72 L305.87 433.97 L306.64 433.28 L307.39 432.7 L308.1 432.26 L308.75 432 L309.35 431.9 L309.91 431.89 L310.43 431.98 L310.93 432.16 L311.41 432.42 L311.87 432.77 L312.33 433.21 L312.79 433.73 L313.26 434.33 L313.75 435 L314.25 435.77 L314.75 436.66 L315.25 437.65 L315.75 438.73 L316.25 439.88 L316.75 441.08 L317.25 442.34 L317.75 443.63 L318.25 444.94 L318.75 446.25 L319.25 447.6 L319.75 449.03 L320.25 450.51 L320.75 452.04 L321.25 453.59 L321.75 455.16 L322.25 456.72 L322.75 458.27 L323.25 459.78 L323.75 461.25 L324.25 462.7 L324.75 464.18 L325.25 465.66 L325.75 467.14 L326.25 468.59 L326.75 470.01 L327.25 471.37 L327.75 472.67 L328.25 473.88 L328.75 475 L329.24 476.02 L329.71 476.97 L330.17 477.84" fill="none" stroke="#000" stroke-width="2.9" stroke-linecap="round" stroke-linejoin="round"/>
<path d="M330.17 477.84 L330.63 478.65 L331.09 479.42 L331.57 480.17 L332.07 480.7 L332.59 481.31 L333.15 481.87 L333.75 482.46 L334.39 482.99 L335.07 483.72 L335.78 484.13 L336.51 484.55 L337.27 484.35 L338.04 484.64 L338.83 485.4 L339.63 485.79 L340.44 485.6" fill="none" stroke="#000" stroke-width="2.95" stroke-linecap="round" stroke-linejoin="round"/>
<path d="M340.44 485.6 L341.25 485.83 L342.06 485.37 L342.86 485.73 L343.67 486.17 L344.48 485.99 L345.31 485.88 L346.17 485.82 L347.06 484.97 L347.99 484.63 L348.97 484.44 L350 484.52 L351.1 484.38 L352.26 484.28 L353.47 483.7 L354.73 483.23 L356.02 482.91" fill="none" stroke="#000" stroke-width="3" stroke-linecap="round" stroke-linejoin="round"/>
<path d="M356.02 482.91 L357.32 482.21 L358.63 481.87 L359.94 481.01 L361.23 481.32 L362.5 480.51 L363.74 480.86 L364.98 480.36 L366.21 479.84 L367.44 479.48 L368.67 479.4 L369.91 479.57 L371.16 479.46 L372.42 478.76 L373.7 478.55 L375 478.77 L376.39 478.63" fill="none" stroke="#000" stroke-width="3" stroke-linecap="round" stroke-linejoin="round"/>
<path d="M376.39 478.63 L377.14 478.36 L377.89 478.11 L378.68 478.34 L379.47 477.71 L380.27 477.87 L381.07 477.91 L381.86 478.26 L382.66 477.88 L383.42 478 L384.18 477.54 L384.89 477.24 L385.6 477.16 L386.86 477.65 L387.93 477.29 L388.75 476.83" fill="none" stroke="#000" stroke-width="3" stroke-linecap="round" stroke-linejoin="round"/>
<text x="312.5" y="507.5" font-size="14" text-anchor="start">SNP 500 uM</text>
<path d="M409.5 362.3 L409.91 362.49 L410.44 362.76 L411.07 363.09 L411.78 363.45 L412.55 363.79 L413.36 364.11 L414.18 364.35 L415 364.5 L415.82 364.57 L416.68 364.6 L417.56 364.59 L418.47 364.53 L419.42 364.42 L420.4 364.25 L421.43 364.03 L422.5 363.75 L423.62 363.37 L424.79 362.89 L426.01 362.34 L427.27 361.73 L428.55 361.12 L429.85 360.52 L431.17 359.97 L432.5 359.5 L433.85 359.07 L435.22 358.65 L436.63 358.25 L438.05 357.88 L439.48 357.55 L440.91 357.29 L442.34 357.1 L443.75 357 L445.13 356.99 L446.47 357.04 L447.8 357.17 L449.14 357.36 L450.51 357.61 L451.92 357.93 L453.41 358.31 L455 358.75 L456.7 359.29 L458.49 359.96 L460.35 360.71 L462.27 361.52 L464.21 362.33 L466.16 363.13 L468.1 363.86 L470 364.5 L471.88 365.06 L473.75 365.57 L475.62 366.04 L477.5 366.48 L479.38 366.9 L481.25 367.28 L483.12 367.65 L485 368 L486.9 368.33 L488.84 368.63 L490.79 368.91 L492.73 369.17 L494.65 369.41 L496.51 369.62 L498.3 369.82 L500 370 L501.66 370.16 L503.34 370.29 L504.99 370.41 L506.56 370.5 L508.02 370.58 L509.32 370.64 L510.41 370.7 L511.25 370.75" fill="none" stroke="#000" stroke-width="2.7" stroke-linecap="round" stroke-linejoin="round"/>
<rect x="412.3" y="364.5" width="3.8" height="10" fill="#000"/>
<path d="M414.2 376.8 L409.6 389.55 L418.8 389.55 Z" fill="#000"/>
<path d="M414.2 388.55 V394.5" stroke="#000" stroke-width="1.5" fill="none"/>
<text x="404" y="408" font-size="14" font-weight="bold" text-anchor="start">Collagen</text>
<path d="M414.2 413.3 V421" stroke="#000" stroke-width="1.5" fill="none"/>
<path d="M414.2 431.4 L409.6 420 L418.8 420 Z" fill="#000"/>
<path d="M408 442 L408.41 441.96 L408.94 441.91 L409.57 441.85 L410.27 441.78 L411.03 441.7 L411.83 441.62 L412.64 441.54 L413.46 441.44 L414.25 441.35 L415 441.25 L415.74 441.17 L416.49 441.11 L417.25 441.07 L418.02 441.03 L418.8 440.97 L419.57 440.88 L420.33 440.76 L421.07 440.58 L421.8 440.33 L422.5 440 L423.19 439.56 L423.87 439 L424.55 438.35 L425.21 437.64 L425.86 436.91 L426.49 436.17 L427.1 435.45 L427.68 434.79 L428.23 434.22 L428.75 433.75 L429.22 433.37 L429.64 433.04 L430.02 432.74 L430.37 432.5 L430.7 432.3 L431.03 432.14 L431.36 432.03 L431.71 431.97 L432.09 431.96 L432.5 432 L432.94 432.08 L433.4 432.2 L433.87 432.37 L434.35 432.58 L434.84 432.84 L435.35 433.16 L435.87 433.53 L436.4 433.96 L436.94 434.45 L437.5 435 L438.07 435.65 L438.67 436.4 L439.28 437.24 L439.91 438.15 L440.55 439.09 L441.19 440.06 L441.84 441.04 L442.48 441.99 L443.12 442.9 L443.75 443.75 L444.38 444.57 L445 445.4 L445.62 446.23 L446.25 447.06 L446.88 447.86 L447.5 448.63 L448.12 449.37 L448.75 450.06 L449.38 450.69 L450 451.25 L450 451.25" fill="none" stroke="#000" stroke-width="2.8" stroke-linecap="round" stroke-linejoin="round"/>
<path d="M450 451.25 L450.61 451.75 L451.21 452.22 L451.8 452.61 L452.38 452.94 L452.97 453.33 L453.57 453.67 L454.19 453.73 L454.84 453.85 L455.52 454.09 L456.25 454.22 L457.03 454.37 L457.86 454.12 L458.73 454.32 L459.63 454.15 L460.55 453.85" fill="none" stroke="#000" stroke-width="2.8" stroke-linecap="round" stroke-linejoin="round"/>
<path d="M460.55 453.85 L461.47 453.47 L462.39 453.74 L463.29 453.16 L464.16 453.31 L465 452.84 L465.78 452.74 L466.5 452.98 L467.18 452.61 L467.85 452.92 L468.52 452.58 L469.2 452.33 L469.92 452.31 L470.7 452.41 L471.55 452.56 L472.5 452.77" fill="none" stroke="#000" stroke-width="2.8" stroke-linecap="round" stroke-linejoin="round"/>
<path d="M472.5 452.77 L473.55 452.36 L474.68 452.62 L475.88 452.65 L477.14 453.26 L478.44 452.94 L479.76 453.07 L481.09 453.26 L482.42 453.64 L483.73 454.1 L485 454.23 L486.26 454.26 L487.55 454.54 L488.84 454.61 L490.14 454.36 L491.44 454.37" fill="none" stroke="#000" stroke-width="2.8" stroke-linecap="round" stroke-linejoin="round"/>
<path d="M491.44 454.37 L492.72 454.92 L493.97 454.9 L495.19 454.56 L496.37 455.02 L497.5 454.93 L498.61 455 L499.74 455.04 L500.87 455 L501.97 454.96 L503.03 455.18 L504.03 455.27 L504.94 455.68 L505.76 455.21 L506.45 455.75 L507 455.32" fill="none" stroke="#000" stroke-width="2.8" stroke-linecap="round" stroke-linejoin="round"/>
<text x="439.5" y="475" font-size="14" text-anchor="start">SNP 2 mM</text>
<path d="M57 593.6 H253.2 V732" stroke="#000" stroke-width="1.15" fill="none"/>
<path d="M57 593.1 V732.8" stroke="#000" stroke-width="1.2" fill="none"/>
<path d="M55.5 732 H253.7" stroke="#000" stroke-width="1.6" fill="none"/>
<path d="M55.4 732 H57" stroke="#000" stroke-width="1" fill="none"/>
<text x="46.4" y="738.05" font-size="11.6" text-anchor="middle" stroke-width="0.15">0</text>
<path d="M55.4 704.4 H57" stroke="#000" stroke-width="1" fill="none"/>
<text x="46.4" y="710.2" font-size="11.6" text-anchor="middle" stroke-width="0.15">20</text>
<path d="M55.4 676.8 H57" stroke="#000" stroke-width="1" fill="none"/>
<text x="46.4" y="681.8" font-size="11.6" text-anchor="middle" stroke-width="0.15">40</text>
<path d="M55.4 649.2 H57" stroke="#000" stroke-width="1" fill="none"/>
<text x="46.4" y="654.6" font-size="11.6" text-anchor="middle" stroke-width="0.15">60</text>
<path d="M55.4 621.6 H57" stroke="#000" stroke-width="1" fill="none"/>
<text x="46.4" y="627.4" font-size="11.6" text-anchor="middle" stroke-width="0.15">80</text>
<path d="M55.4 594 H57" stroke="#000" stroke-width="1" fill="none"/>
<text x="46.4" y="599.5" font-size="11.6" text-anchor="middle" stroke-width="0.15">100</text>
<rect x="58" y="626.05" width="17.25" height="105.95" fill="#8c8c8c"/>
<rect x="58" y="625.75" width="16.25" height="106.25" fill="#000"/>
<path d="M66.12 625.75 V623 M61.83 623.4 H70.42" stroke="#000" stroke-width="1.5" fill="none"/>
<rect x="75" y="707.8" width="15.5" height="24.2" fill="#8c8c8c"/>
<rect x="75" y="707.5" width="14.5" height="24.5" fill="#000"/>
<path d="M82.25 707.5 V700.5 M77.95 700.9 H86.55" stroke="#000" stroke-width="1.5" fill="none"/>
<rect x="90.5" y="722.05" width="16.25" height="9.95" fill="#8c8c8c"/>
<rect x="90.5" y="721.75" width="15.25" height="10.25" fill="#000"/>
<path d="M98.12 721.75 V721 M93.83 721.4 H102.42" stroke="#000" stroke-width="1.5" fill="none"/>
<rect x="106.75" y="722.55" width="16.25" height="9.45" fill="#8c8c8c"/>
<rect x="106.75" y="722.25" width="15.25" height="9.75" fill="#000"/>
<path d="M114.38 722.25 V721 M110.08 721.4 H118.67" stroke="#000" stroke-width="1.5" fill="none"/>
<rect x="123" y="723.9" width="16.25" height="8.1" fill="#8c8c8c"/>
<rect x="123" y="723.6" width="15.25" height="8.4" fill="#000"/>
<path d="M130.62 723.6 V723 M126.33 723.4 H134.93" stroke="#000" stroke-width="1.5" fill="none"/>
<rect x="139.25" y="727.8" width="16.75" height="4.2" fill="#8c8c8c"/>
<rect x="139.25" y="727.5" width="15.75" height="4.5" fill="#000"/>
<path d="M147.12 727.5 V726.4 M142.82 726.8 H151.43" stroke="#000" stroke-width="1.5" fill="none"/>
<rect x="156" y="622.3" width="16.25" height="109.7" fill="#8c8c8c"/>
<rect x="156" y="622" width="15.25" height="110" fill="#000"/>
<path d="M163.62 622 V620.75 M159.32 621.15 H167.93" stroke="#000" stroke-width="1.5" fill="none"/>
<rect x="172.1" y="619.8" width="16.4" height="112.2" fill="#8c8c8c"/>
<rect x="172.1" y="619.5" width="15.4" height="112.5" fill="#000"/>
<path d="M179.8 619.5 V618.8 M175.5 619.2 H184.1" stroke="#000" stroke-width="1.5" fill="none"/>
<rect x="188.35" y="630.3" width="16.4" height="101.7" fill="#8c8c8c"/>
<rect x="188.35" y="630" width="15.4" height="102" fill="#000"/>
<path d="M196.05 630 V625.75 M191.75 626.15 H200.35" stroke="#000" stroke-width="1.5" fill="none"/>
<rect x="204.6" y="647.3" width="16.4" height="84.7" fill="#8c8c8c"/>
<rect x="204.6" y="647" width="15.4" height="85" fill="#000"/>
<path d="M212.3 647 V637.5 M208 637.9 H216.6" stroke="#000" stroke-width="1.5" fill="none"/>
<rect x="220.85" y="683.3" width="16.4" height="48.7" fill="#8c8c8c"/>
<rect x="220.85" y="683" width="15.4" height="49" fill="#000"/>
<path d="M228.55 683 V674.25 M224.25 674.65 H232.85" stroke="#000" stroke-width="1.5" fill="none"/>
<rect x="237.1" y="722.05" width="16.9" height="9.95" fill="#8c8c8c"/>
<rect x="237.1" y="721.75" width="15.9" height="10.25" fill="#000"/>
<path d="M245.05 721.75 V717.5 M240.75 717.9 H249.35" stroke="#000" stroke-width="1.5" fill="none"/>
<text x="86.5" y="690.9" font-size="11.4" text-anchor="start" transform="rotate(-90 86.5 690.9)" stroke-width="0.2">p&lt;0.001</text>
<text x="100.6" y="712.3" font-size="11.4" text-anchor="start" transform="rotate(-90 100.6 712.3)" stroke-width="0.2">p&lt;0.001</text>
<text x="115.4" y="713" font-size="11.4" text-anchor="start" transform="rotate(-90 115.4 713)" stroke-width="0.2">p&lt;0.001</text>
<text x="136.4" y="714.7" font-size="11.4" text-anchor="start" transform="rotate(-90 136.4 714.7)" stroke-width="0.2">p&lt;0.001</text>
<text x="151.9" y="716.1" font-size="11.4" text-anchor="start" transform="rotate(-90 151.9 716.1)" stroke-width="0.2">p&lt;0.001</text>
<text x="215.7" y="632.6" font-size="11.4" text-anchor="start" transform="rotate(-90 215.7 632.6)" stroke-width="0.2">p&lt;0.05</text>
<text x="236.1" y="660.4" font-size="11.4" text-anchor="start" transform="rotate(-90 236.1 660.4)" stroke-width="0.2">p&lt;0.02</text>
<text x="250.6" y="702.1" font-size="11.4" text-anchor="start" transform="rotate(-90 250.6 702.1)" stroke-width="0.2">p&lt;0.001</text>
<path d="M58 588.4 H149.5 M156.25 588.4 H247.5" stroke="#000" stroke-width="1.2" fill="none"/>
<text x="78.5" y="581.3" font-size="13.9">sGC<tspan dx="0.6" dy="-2.5" font-size="13.9">+/+</tspan></text>
<text x="181" y="581.3" font-size="13.9">sGC<tspan dx="0.6" dy="-2.5" font-size="14.8">-/-</tspan></text>
<text x="25.3" y="661.5" font-size="14" font-weight="bold" text-anchor="middle" transform="rotate(-90 25.3 661.5)">Aggregation</text>
<text x="0.8" y="572" font-size="19.8" font-weight="bold" text-anchor="start">C</text>
<text x="3.4" y="750" font-size="12" text-anchor="start">SNP (uM)</text>
<text x="63.92" y="742.6" font-size="11.6" text-anchor="middle" transform="rotate(-45 63.92 742.6)" dominant-baseline="central" stroke-width="0.2">0</text>
<text x="80.05" y="742.6" font-size="11.6" text-anchor="middle" transform="rotate(-45 80.05 742.6)" dominant-baseline="central" stroke-width="0.2">1</text>
<text x="98.83" y="739" font-size="11.5" text-anchor="end" transform="rotate(-45 98.83 739)" dominant-baseline="central" stroke-width="0.2">10</text>
<text x="115.08" y="739" font-size="11.5" text-anchor="end" transform="rotate(-45 115.08 739)" dominant-baseline="central" stroke-width="0.2">100</text>
<text x="131.32" y="739" font-size="11.5" text-anchor="end" transform="rotate(-45 131.32 739)" dominant-baseline="central" stroke-width="0.2">500</text>
<text x="147.82" y="739" font-size="11.5" text-anchor="end" transform="rotate(-45 147.82 739)" dominant-baseline="central" stroke-width="0.2">2000</text>
<text x="162.03" y="742.6" font-size="11.6" text-anchor="middle" transform="rotate(-45 162.03 742.6)" dominant-baseline="central" stroke-width="0.2">0</text>
<text x="177.4" y="742.6" font-size="11.6" text-anchor="middle" transform="rotate(-45 177.4 742.6)" dominant-baseline="central" stroke-width="0.2">1</text>
<text x="196.35" y="739" font-size="11.5" text-anchor="end" transform="rotate(-45 196.35 739)" dominant-baseline="central" stroke-width="0.2">10</text>
<text x="211.6" y="739" font-size="11.5" text-anchor="end" transform="rotate(-45 211.6 739)" dominant-baseline="central" stroke-width="0.2">100</text>
<text x="226.75" y="739" font-size="11.5" text-anchor="end" transform="rotate(-45 226.75 739)" dominant-baseline="central" stroke-width="0.2">500</text>
<text x="246.75" y="739" font-size="11.5" text-anchor="end" transform="rotate(-45 246.75 739)" dominant-baseline="central" stroke-width="0.2">2000</text>
<path d="M322.8 594.8 H518.6 V732" stroke="#000" stroke-width="1.15" fill="none"/>
<path d="M322.8 594.3 V732.8" stroke="#000" stroke-width="1.2" fill="none"/>
<path d="M321.3 732 H519.1" stroke="#000" stroke-width="1.6" fill="none"/>
<path d="M321.2 732 H322.8" stroke="#000" stroke-width="1" fill="none"/>
<text x="305.7" y="735.6" font-size="11.6" text-anchor="middle" stroke-width="0.15">0</text>
<path d="M321.2 709.22 H322.8" stroke="#000" stroke-width="1" fill="none"/>
<text x="305.7" y="713.7" font-size="11.6" text-anchor="middle" stroke-width="0.15">20</text>
<path d="M321.2 686.44 H322.8" stroke="#000" stroke-width="1" fill="none"/>
<text x="305.7" y="691.3" font-size="11.6" text-anchor="middle" stroke-width="0.15">40</text>
<path d="M321.2 663.66 H322.8" stroke="#000" stroke-width="1" fill="none"/>
<text x="305.7" y="669.4" font-size="11.6" text-anchor="middle" stroke-width="0.15">60</text>
<path d="M321.2 640.88 H322.8" stroke="#000" stroke-width="1" fill="none"/>
<text x="305.7" y="646.3" font-size="11.6" text-anchor="middle" stroke-width="0.15">80</text>
<path d="M321.2 618.1 H322.8" stroke="#000" stroke-width="1" fill="none"/>
<text x="305.7" y="623.25" font-size="11.6" text-anchor="middle" stroke-width="0.15">100</text>
<path d="M321.2 595.32 H322.8" stroke="#000" stroke-width="1" fill="none"/>
<text x="305.7" y="601.55" font-size="11.6" text-anchor="middle" stroke-width="0.15">120</text>
<rect x="323.75" y="617.8" width="16.65" height="114.2" fill="#8c8c8c"/>
<rect x="323.75" y="617.5" width="15.65" height="114.5" fill="#000"/>
<path d="M331.57 617.5 V603.25 M327.27 603.65 H335.88" stroke="#000" stroke-width="1.5" fill="none"/>
<rect x="340.4" y="700.3" width="16" height="31.7" fill="#8c8c8c"/>
<rect x="340.4" y="700" width="15" height="32" fill="#000"/>
<path d="M347.9 700 V691.75 M343.6 692.15 H352.2" stroke="#000" stroke-width="1.5" fill="none"/>
<rect x="356.4" y="717.8" width="16.35" height="14.2" fill="#8c8c8c"/>
<rect x="356.4" y="717.5" width="15.35" height="14.5" fill="#000"/>
<path d="M364.07 717.5 V714.75 M359.77 715.15 H368.38" stroke="#000" stroke-width="1.5" fill="none"/>
<rect x="372.7" y="719.7" width="16.3" height="12.3" fill="#8c8c8c"/>
<rect x="372.7" y="719.4" width="15.3" height="12.6" fill="#000"/>
<path d="M380.35 719.4 V713.75 M376.05 714.15 H384.65" stroke="#000" stroke-width="1.5" fill="none"/>
<rect x="389" y="717.8" width="16.4" height="14.2" fill="#8c8c8c"/>
<rect x="389" y="717.5" width="15.4" height="14.5" fill="#000"/>
<path d="M396.7 717.5 V715 M392.4 715.4 H401" stroke="#000" stroke-width="1.5" fill="none"/>
<rect x="405.4" y="726.3" width="16.2" height="5.7" fill="#8c8c8c"/>
<rect x="405.4" y="726" width="15.2" height="6" fill="#000"/>
<path d="M413 726 V723.5 M408.7 723.9 H417.3" stroke="#000" stroke-width="1.5" fill="none"/>
<rect x="421.7" y="664.3" width="16.3" height="67.7" fill="#8c8c8c"/>
<rect x="421.7" y="664" width="15.3" height="68" fill="#000"/>
<path d="M429.35 664 V652.4 M425.05 652.8 H433.65" stroke="#000" stroke-width="1.5" fill="none"/>
<rect x="438" y="640.3" width="16.2" height="91.7" fill="#8c8c8c"/>
<rect x="438" y="640" width="15.2" height="92" fill="#000"/>
<path d="M445.6 640 V630.5 M441.3 630.9 H449.9" stroke="#000" stroke-width="1.5" fill="none"/>
<rect x="454.2" y="679.3" width="16.3" height="52.7" fill="#8c8c8c"/>
<rect x="454.2" y="679" width="15.3" height="53" fill="#000"/>
<path d="M461.85 679 V665.2 M457.55 665.6 H466.15" stroke="#000" stroke-width="1.5" fill="none"/>
<rect x="470.5" y="693.3" width="16.25" height="38.7" fill="#8c8c8c"/>
<rect x="470.5" y="693" width="15.25" height="39" fill="#000"/>
<path d="M478.12 693 V690.5 M473.82 690.9 H482.43" stroke="#000" stroke-width="1.5" fill="none"/>
<rect x="486.75" y="713.3" width="16.25" height="18.7" fill="#8c8c8c"/>
<rect x="486.75" y="713" width="15.25" height="19" fill="#000"/>
<path d="M494.38 713 V709.25 M490.07 709.65 H498.68" stroke="#000" stroke-width="1.5" fill="none"/>
<rect x="503" y="725.05" width="16.4" height="6.95" fill="#8c8c8c"/>
<rect x="503" y="724.75" width="15.4" height="7.25" fill="#000"/>
<path d="M510.7 724.75 V721.75 M506.4 722.15 H515" stroke="#000" stroke-width="1.5" fill="none"/>
<text x="351.2" y="679.9" font-size="11.4" text-anchor="start" transform="rotate(-90 351.2 679.9)" stroke-width="0.2">p&lt;0.005</text>
<text x="367.4" y="701.7" font-size="11.4" text-anchor="start" transform="rotate(-90 367.4 701.7)" stroke-width="0.2">p&lt;0.001</text>
<text x="383.6" y="702.4" font-size="11.4" text-anchor="start" transform="rotate(-90 383.6 702.4)" stroke-width="0.2">p&lt;0.001</text>
<text x="397.3" y="704.9" font-size="11.4" text-anchor="start" transform="rotate(-90 397.3 704.9)" stroke-width="0.2">p&lt;0.001</text>
<text x="414.9" y="708.4" font-size="11.4" text-anchor="start" transform="rotate(-90 414.9 708.4)" stroke-width="0.2">p&lt;0.001</text>
<text x="480.4" y="679.2" font-size="11.4" text-anchor="start" transform="rotate(-90 480.4 679.2)" stroke-width="0.2">p&lt;0.05</text>
<text x="495.2" y="699.9" font-size="11.4" text-anchor="start" transform="rotate(-90 495.2 699.9)" stroke-width="0.2">p&lt;0.01</text>
<text x="511.7" y="711.6" font-size="11.4" text-anchor="start" transform="rotate(-90 511.7 711.6)" stroke-width="0.2">p&lt;0.005</text>
<path d="M323.75 590.2 H415 M422 590.2 H513.75" stroke="#000" stroke-width="1.2" fill="none"/>
<text x="344.8" y="581.8" font-size="13.9">sGC<tspan dx="0.6" dy="-2.5" font-size="13.9">+/+</tspan></text>
<text x="448.5" y="581.8" font-size="13.9">sGC<tspan dx="0.6" dy="-2.5" font-size="14.8">-/-</tspan></text>
<text x="285.2" y="667.5" font-size="14" font-weight="bold" text-anchor="middle" transform="rotate(-90 285.2 667.5)">ATP release</text>
<text x="285.2" y="572" font-size="19.8" font-weight="bold" text-anchor="start">D</text>
<text x="268.6" y="750" font-size="12" text-anchor="start">SNP (uM)</text>
<text x="328.48" y="742.6" font-size="11.6" text-anchor="middle" transform="rotate(-45 328.48 742.6)" dominant-baseline="central" stroke-width="0.2">0</text>
<text x="344.1" y="742.6" font-size="11.6" text-anchor="middle" transform="rotate(-45 344.1 742.6)" dominant-baseline="central" stroke-width="0.2">1</text>
<text x="362.97" y="739" font-size="11.5" text-anchor="end" transform="rotate(-45 362.97 739)" dominant-baseline="central" stroke-width="0.2">10</text>
<text x="379.05" y="739" font-size="11.5" text-anchor="end" transform="rotate(-45 379.05 739)" dominant-baseline="central" stroke-width="0.2">100</text>
<text x="395.4" y="739" font-size="11.5" text-anchor="end" transform="rotate(-45 395.4 739)" dominant-baseline="central" stroke-width="0.2">500</text>
<text x="411.5" y="739" font-size="11.5" text-anchor="end" transform="rotate(-45 411.5 739)" dominant-baseline="central" stroke-width="0.2">2000</text>
<text x="427.75" y="742.6" font-size="11.6" text-anchor="middle" transform="rotate(-45 427.75 742.6)" dominant-baseline="central" stroke-width="0.2">0</text>
<text x="441.5" y="742.6" font-size="11.6" text-anchor="middle" transform="rotate(-45 441.5 742.6)" dominant-baseline="central" stroke-width="0.2">1</text>
<text x="461.25" y="739" font-size="11.5" text-anchor="end" transform="rotate(-45 461.25 739)" dominant-baseline="central" stroke-width="0.2">10</text>
<text x="476.12" y="739" font-size="11.5" text-anchor="end" transform="rotate(-45 476.12 739)" dominant-baseline="central" stroke-width="0.2">100</text>
<text x="491.47" y="739" font-size="11.5" text-anchor="end" transform="rotate(-45 491.47 739)" dominant-baseline="central" stroke-width="0.2">500</text>
<text x="509.9" y="739" font-size="11.5" text-anchor="end" transform="rotate(-45 509.9 739)" dominant-baseline="central" stroke-width="0.2">2000</text>
</svg>
</body></html>
